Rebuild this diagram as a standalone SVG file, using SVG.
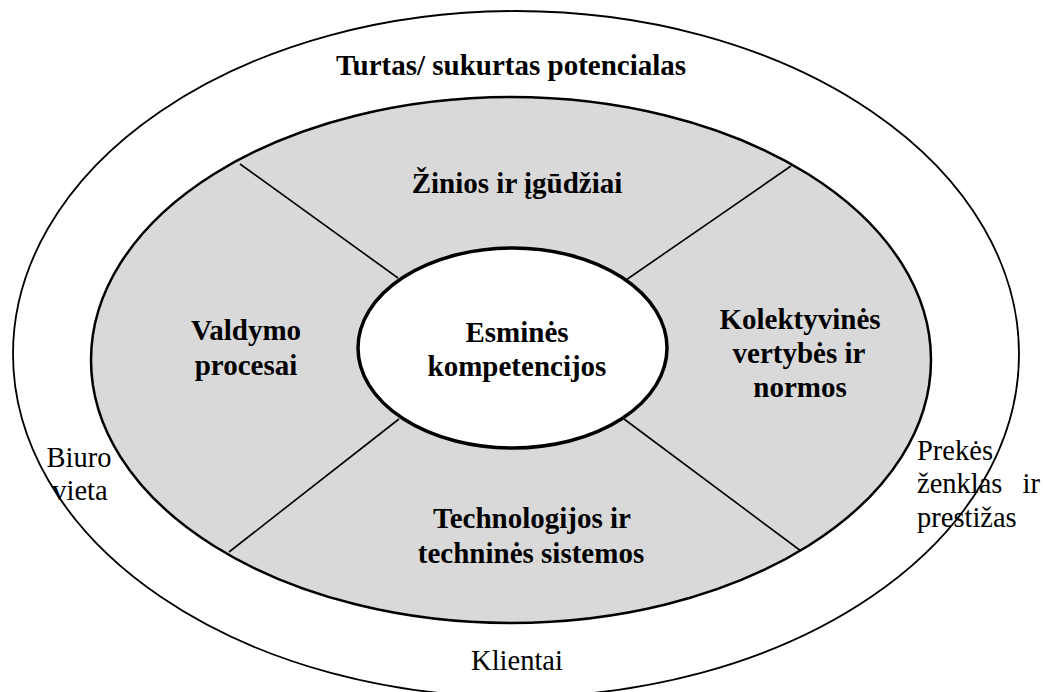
<svg xmlns="http://www.w3.org/2000/svg" width="1043" height="692" viewBox="0 0 1043 692">
<style>
text{font-family:'Liberation Serif','Times New Roman',Times,serif;fill:#000}
.b{font-weight:bold;font-size:29px;text-anchor:middle}
.r{font-size:28.5px}
.c{text-anchor:middle}
.ln{stroke:#000;stroke-width:1.6;fill:none}
</style>
<rect width="1043" height="692" fill="#fff"/>
<g id="outer">
<ellipse cx="516" cy="354" rx="503" ry="343" fill="#fff" stroke="#000" stroke-width="1.8"/>
<text class="b" x="511" y="75">Turtas/ sukurtas potencialas</text>
</g>
<g id="middle">
<ellipse cx="511" cy="360" rx="420" ry="263" fill="#d9d9d9" stroke="#000" stroke-width="2.5"/>
</g>
<g id="connectors">
<line class="ln" x1="240" y1="164" x2="398" y2="278"/>
<line class="ln" x1="791" y1="166" x2="626" y2="280"/>
<line class="ln" x1="229" y1="552" x2="399" y2="419"/>
<line class="ln" x1="801" y1="551" x2="624" y2="419"/>
</g>
<g id="core">
<ellipse cx="512.5" cy="348" rx="154.5" ry="100" fill="#fff" stroke="#000" stroke-width="3.5"/>
<text class="b" x="517" y="342">Esminės</text>
<text class="b" x="517" y="376">kompetencijos</text>
</g>
<g id="ziniai">
<text class="b" x="517" y="193">Žinios ir įgūdžiai</text>
</g>
<g id="valdymo">
<text class="b" x="246" y="340">Valdymo</text>
<text class="b" x="246" y="375">procesai</text>
</g>
<g id="kolektyvines">
<text class="b" x="800" y="329">Kolektyvinės</text>
<text class="b" x="799" y="363">vertybės ir</text>
<text class="b" x="800" y="397">normos</text>
</g>
<g id="technologijos">
<text class="b" x="532" y="528">Technologijos ir</text>
<text class="b" x="531" y="563">techninės sistemos</text>
</g>
<g id="biuro">
<text class="r c" x="79" y="467">Biuro</text>
<text class="r c" x="80" y="500">vieta</text>
</g>
<g id="prekes">
<text class="r" x="917" y="460">Prekės</text>
<text class="r" x="917" y="493">ženklas</text>
<text class="r" x="1040" y="493" text-anchor="end">ir</text>
<text class="r" x="917" y="527">prestižas</text>
</g>
<g id="klientai">
<text class="r c" x="517" y="670">Klientai</text>
</g>
</svg>
